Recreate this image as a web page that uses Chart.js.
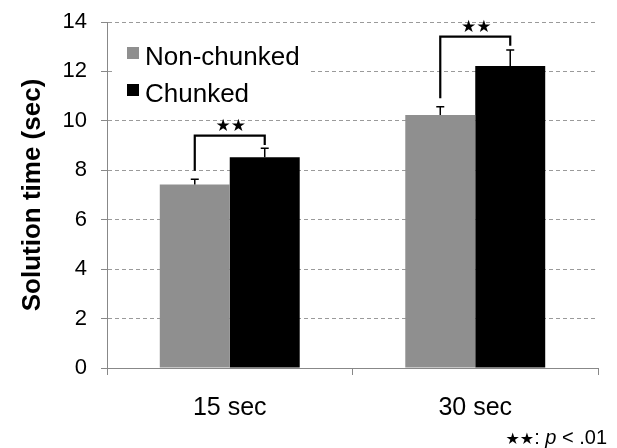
<!DOCTYPE html>
<html>
<head>
<meta charset="utf-8">
<script src="https://cdn.jsdelivr.net/npm/chart.js@4"></script>
<style>
  html, body { margin: 0; padding: 0; background: #fff; }
  #wrap { width: 617px; height: 448px; }
</style>
</head>
<body>
<div id="wrap"><canvas id="chart" width="617" height="448"></canvas></div>
<script>
// data
const categories = ['15 sec', '30 sec'];
const seriesNames = ['Non-chunked', 'Chunked'];
const nonChunked = [7.42, 10.24];
const chunked = [8.53, 12.22];
const nonChunkedErr = [0.22, 0.33];
const chunkedErr = [0.36, 0.65];
// significance brackets: left leg bottom, bar top, right leg bottom
const bracketLeft = [7.98, 10.91];
const bracketTop = [9.40, 13.41];
const bracketRight = [9.02, 13.04];
const yTicks = [0, 2, 4, 6, 8, 10, 12, 14];

const FONT = '"Liberation Sans", Arial, Helvetica, sans-serif';
const GRAY = '#8f8f8f';

// error bars, brackets, legend and footnote
const extras = {
    id: 'extras',
    afterDatasetsDraw(chart) {
        const ctx = chart.ctx;
        const y = chart.scales.y;
        const errs = [nonChunkedErr, chunkedErr];

        // error bars
        ctx.save();
        ctx.strokeStyle = '#000';
        ctx.lineWidth = 1.5;
        chart.data.datasets.forEach((ds, di) => {
            chart.getDatasetMeta(di).data.forEach((bar, i) => {
                const top = y.getPixelForValue(ds.data[i] + errs[di][i]);
                ctx.beginPath();
                ctx.moveTo(bar.x, bar.y);
                ctx.lineTo(bar.x, top);
                ctx.moveTo(bar.x - 4, top);
                ctx.lineTo(bar.x + 4, top);
                ctx.stroke();
            });
        });
        ctx.restore();

        // brackets with stars
        const m0 = chart.getDatasetMeta(0).data;
        const m1 = chart.getDatasetMeta(1).data;
        ctx.save();
        ctx.strokeStyle = '#000';
        ctx.lineWidth = 2.2;
        categories.forEach((c, i) => {
            const xl = m0[i].x, xr = m1[i].x;
            const yt = y.getPixelForValue(bracketTop[i]);
            ctx.beginPath();
            ctx.moveTo(xl, y.getPixelForValue(bracketLeft[i]));
            ctx.lineTo(xl, yt);
            ctx.lineTo(xr, yt);
            ctx.lineTo(xr, y.getPixelForValue(bracketRight[i]));
            ctx.stroke();
            ctx.fillStyle = '#000';
            ctx.font = '17px "DejaVu Sans", sans-serif';
            ctx.textAlign = 'center';
            ctx.textBaseline = 'middle';
            ctx.fillText('★★', (xl + xr) / 2 + 1, yt - 9);
        });
        ctx.restore();

        // legend box
        ctx.save();
        ctx.fillStyle = '#fff';
        ctx.fillRect(115, 34, 193, 72);
        const colors = [GRAY, '#000'];
        const boxY = [47, 84];
        const textY = [65, 101.5];
        ctx.font = '26px ' + FONT;
        ctx.textAlign = 'left';
        ctx.textBaseline = 'alphabetic';
        seriesNames.forEach((name, i) => {
            ctx.fillStyle = colors[i];
            ctx.fillRect(127, boxY[i], 12, 12);
            ctx.fillStyle = '#000';
            ctx.fillText(name, 145, textY[i]);
        });
        ctx.restore();

        // footnote
        ctx.save();
        ctx.fillStyle = '#000';
        ctx.textBaseline = 'alphabetic';
        ctx.textAlign = 'left';
        const base = 444;
        const parts = [
            ['★★', '16px "DejaVu Sans", sans-serif'],
            [': ', '20px ' + FONT],
            ['p', 'italic 20px ' + FONT],
            [' < .01', '20px ' + FONT]
        ];
        let w = 0;
        parts.forEach(p => { ctx.font = p[1]; w += ctx.measureText(p[0]).width; });
        let x = 607 - w;
        parts.forEach(p => {
            ctx.font = p[1];
            ctx.fillText(p[0], x, base);
            x += ctx.measureText(p[0]).width;
        });
        ctx.restore();
    }
};

const ctx = document.getElementById('chart').getContext('2d');
new Chart(ctx, {
    type: 'bar',
    data: {
        labels: categories,
        datasets: [
            { label: seriesNames[0], data: nonChunked, backgroundColor: GRAY },
            { label: seriesNames[1], data: chunked, backgroundColor: '#000' }
        ]
    },
    options: {
        responsive: false,
        animation: false,
        events: [],
        layout: { padding: { left: 0, right: 19, top: 22, bottom: 0 } },
        datasets: { bar: { categoryPercentage: 0.57, barPercentage: 1.0 } },
        plugins: { legend: { display: false }, tooltip: { enabled: false } },
        scales: {
            x: {
                offset: true,
                grid: {
                    offset: true,
                    drawOnChartArea: false,
                    tickLength: 7,
                    tickColor: '#888',
                    tickWidth: 1
                },
                border: { color: '#888', width: 1 },
                ticks: { color: '#000', padding: 18, font: { family: FONT, size: 25 } },
                afterFit(scale) { scale.height = 80; }
            },
            y: {
                min: 0,
                max: 14,
                afterBuildTicks(scale) { scale.ticks = yTicks.map(v => ({ value: v })); },
                grid: {
                    color: '#9a9a9a',
                    lineWidth: 1,
                    tickLength: 6,
                    tickColor: '#888',
                    tickBorderDash: []
                },
                border: { color: '#888', width: 1, dash: [4, 3] },
                ticks: { color: '#000', padding: 14, font: { family: FONT, size: 22 } },
                title: {
                    display: true,
                    text: 'Solution time (sec)',
                    color: '#000',
                    padding: { top: 17, bottom: 0 },
                    font: { family: FONT, size: 26, weight: 'bold' }
                },
                afterFit(scale) {
                    scale.width = 107;
                    scale.paddingTop = 0;
                }
            }
        }
    },
    plugins: [extras]
});
</script>
</body>
</html>
